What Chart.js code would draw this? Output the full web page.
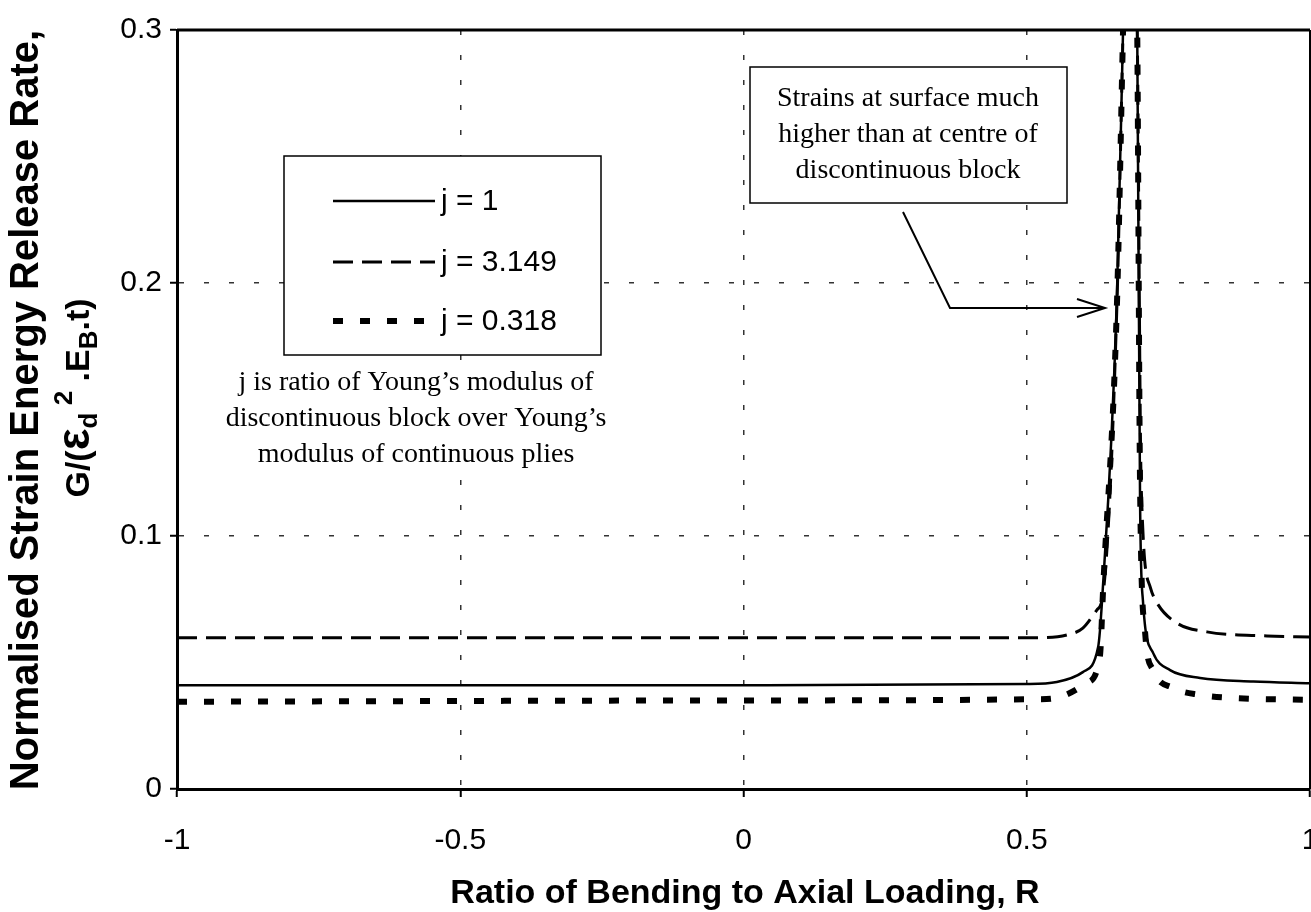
<!DOCTYPE html>
<html>
<head>
<meta charset="utf-8">
<title>Normalised strain energy release rate</title>
<script src="https://cdn.jsdelivr.net/npm/chart.js@4.4.1/dist/chart.umd.min.js"></script>
<style>
  html, body { margin: 0; padding: 0; background: #fff; overflow: hidden; }
  canvas { display: block; }
</style>
</head>
<body>
<canvas id="gChart" width="1330" height="912"></canvas>
<script>
// ---- data: R (bending / axial) and G/(eps^2.E.t) for each modulus ratio j ----
const rJ1 = [-1, 0, 0.5, 0.553, 0.599, 0.626, 0.633, 0.659, 0.670, 0.682, 0.695, 0.700, 0.705, 0.723, 0.753, 0.806, 0.9, 1.0];
const gJ1 = [0.041, 0.041, 0.0415, 0.0423, 0.0462, 0.0561, 0.0747, 0.193, 0.300, 0.42, 0.300, 0.114, 0.0747, 0.0538, 0.047, 0.0439, 0.0425, 0.0418];

const rJ3 = [-1, 0, 0.518, 0.571, 0.599, 0.624, 0.635, 0.659, 0.670, 0.682, 0.695, 0.702, 0.718, 0.730, 0.765, 0.818, 0.924, 1.0];
const gJ3 = [0.0598, 0.0598, 0.0598, 0.0609, 0.0636, 0.0708, 0.0775, 0.190, 0.300, 0.42, 0.300, 0.12, 0.0798, 0.0735, 0.0656, 0.0621, 0.0605, 0.0601];

const rJ03 = [-1, 0, 0.518, 0.559, 0.606, 0.629, 0.635, 0.659, 0.670, 0.682, 0.695, 0.700, 0.709, 0.723, 0.758, 0.806, 0.864, 1.0];
const gJ03 = [0.0345, 0.035, 0.0355, 0.0364, 0.0419, 0.0522, 0.08, 0.19, 0.300, 0.42, 0.300, 0.12, 0.0617, 0.047, 0.040, 0.0372, 0.036, 0.0352];

const seriesLabels = ["j = 1", "j = 3.149", "j = 0.318"];
const xTicks = [-1, -0.5, 0, 0.5, 1];
const yTicks = [0, 0.1, 0.2, 0.3];

const SANS = '"Liberation Sans", Arial, sans-serif';
const SERIF = '"Liberation Serif", "Times New Roman", serif';

const toPoints = (rs, gs) => rs.map((r, i) => ({ x: r, y: gs[i] }));

// line styles per series: solid, long dash, heavy short dash
const lineStyles = [
    { width: 2.5, dash: [] },
    { width: 3, dash: [20, 9] },
    { width: 6, dash: [10, 17] },
];

const datasets = [
    toPoints(rJ1, gJ1),
    toPoints(rJ3, gJ3),
    toPoints(rJ03, gJ03),
].map((pts, i) => ({
    label: seriesLabels[i],
    data: pts,
    borderColor: "#000",
    borderWidth: lineStyles[i].width,
    borderDash: lineStyles[i].dash,
    borderCapStyle: "butt",
    borderJoinStyle: "round",
    pointRadius: 0,
    cubicInterpolationMode: "monotone",
    fill: false,
}));

// ---- frame, legend, notes and axis titles ----
const overlay = {
    id: "overlay",
    afterDatasetsDraw(chart) {
        const { ctx, chartArea: a } = chart;
        ctx.save();
        ctx.strokeStyle = "#000";
        ctx.fillStyle = "#000";
        ctx.setLineDash([]);

        // top + right border of plot area
        ctx.lineWidth = 3;
        ctx.beginPath();
        ctx.moveTo(a.left, a.top);
        ctx.lineTo(a.right, a.top);
        ctx.stroke();
        ctx.lineWidth = 2;
        ctx.beginPath();
        ctx.moveTo(a.right, a.top);
        ctx.lineTo(a.right, a.bottom);
        ctx.stroke();

        // legend box
        ctx.fillStyle = "#fff";
        ctx.fillRect(284, 156, 317, 199);
        ctx.lineWidth = 1.5;
        ctx.strokeRect(284, 156, 317, 199);
        const rows = [201, 262, 321];
        chart.data.datasets.forEach((ds, i) => {
            ctx.lineWidth = ds.borderWidth;
            ctx.setLineDash(ds.borderDash);
            ctx.lineCap = "butt";
            ctx.beginPath();
            ctx.moveTo(333, rows[i]);
            ctx.lineTo(435, rows[i]);
            ctx.stroke();
            ctx.setLineDash([]);
            ctx.fillStyle = "#000";
            ctx.font = "30px " + SANS;
            ctx.textAlign = "left";
            ctx.textBaseline = "middle";
            ctx.fillText(ds.label, 441, rows[i] + 1);
        });

        // note under the legend (text box with white fill, no outline)
        ctx.fillStyle = "#fff";
        ctx.fillRect(214, 362, 404, 110);
        ctx.fillStyle = "#000";
        ctx.font = "28px " + SERIF;
        ctx.textAlign = "center";
        ctx.textBaseline = "middle";
        ["j is ratio of Young\u2019s modulus of",
         "discontinuous block over Young\u2019s",
         "modulus of continuous plies"].forEach((t, i) => ctx.fillText(t, 416, 383 + i * 36));

        // callout box with arrow
        ctx.fillStyle = "#fff";
        ctx.fillRect(750, 67, 317, 136);
        ctx.lineWidth = 1.5;
        ctx.strokeRect(750, 67, 317, 136);
        ctx.fillStyle = "#000";
        ["Strains at surface much",
         "higher than at centre of",
         "discontinuous block"].forEach((t, i) => ctx.fillText(t, 908, 99 + i * 36));
        ctx.lineWidth = 2;
        ctx.beginPath();
        ctx.moveTo(903, 212);
        ctx.lineTo(950, 308);
        ctx.lineTo(1105, 308);
        ctx.moveTo(1077, 299);
        ctx.lineTo(1105, 308);
        ctx.lineTo(1077, 317);
        ctx.stroke();

        // x axis title
        ctx.font = "bold 34px " + SANS;
        ctx.textAlign = "center";
        ctx.textBaseline = "middle";
        ctx.fillText("Ratio of Bending to Axial Loading, R", 745, 894);

        // y axis title, two lines, rotated
        ctx.save();
        ctx.translate(38, 410);
        ctx.rotate(-Math.PI / 2);
        ctx.font = "bold 40px " + SANS;
        ctx.textBaseline = "alphabetic";
        ctx.fillText("Normalised Strain Energy Release Rate,", 0, 0);
        ctx.restore();

        ctx.save();
        ctx.translate(89, 398);
        ctx.rotate(-Math.PI / 2);
        ctx.textBaseline = "alphabetic";
        ctx.textAlign = "left";
        const parts = [
            { t: "G/(", size: 34, dy: 0 },
            { t: "\u03b5", size: 46, dy: 0 },
            { t: "d", size: 26, dy: 8 },
            { t: " 2", size: 26, dy: -17 },
            { t: " .E", size: 34, dy: 0 },
            { t: "B", size: 26, dy: 8 },
            { t: ".t)", size: 34, dy: 0 },
        ];
        let total = 0;
        parts.forEach(p => { ctx.font = "bold " + p.size + "px " + SANS; p.w = ctx.measureText(p.t).width; total += p.w; });
        let x = -total / 2;
        parts.forEach(p => {
            ctx.font = "bold " + p.size + "px " + SANS;
            ctx.fillText(p.t, x, p.dy);
            x += p.w;
        });
        ctx.restore();

        ctx.restore();
    },
};

new Chart(document.getElementById("gChart"), {
    type: "line",
    data: { datasets },
    options: {
        responsive: false,
        devicePixelRatio: 1,
        animation: false,
        layout: { padding: { top: 30, right: 20, left: 0, bottom: 0 } },
        plugins: { legend: { display: false }, tooltip: { enabled: false } },
        scales: {
            x: {
                type: "linear",
                min: -1,
                max: 1,
                afterBuildTicks: (s) => { s.ticks = xTicks.map(v => ({ value: v })); },
                afterFit: (s) => { s.height = 123; s.paddingLeft = 0; s.paddingRight = 0; },
                ticks: {
                    color: "#000",
                    font: { family: SANS, size: 30 },
                    padding: 26,
                    maxRotation: 0,
                    callback: (v) => String(v),
                },
                grid: {
                    color: "#333",
                    lineWidth: 1.5,
                    tickLength: 8,
                    tickColor: "#000",
                    tickWidth: 2,
                    tickBorderDash: [],
                },
                border: { display: true, color: "#000", width: 3, dash: [5, 20] },
            },
            y: {
                type: "linear",
                min: 0,
                max: 0.3,
                afterBuildTicks: (s) => { s.ticks = yTicks.map(v => ({ value: v })); },
                afterFit: (s) => { s.width = 177; s.paddingTop = 0; s.paddingBottom = 0; },
                ticks: {
                    color: "#000",
                    font: { family: SANS, size: 30 },
                    padding: 8,
                    callback: (v) => (v === 0 ? "0" : v.toFixed(1)),
                },
                grid: {
                    color: "#333",
                    lineWidth: 1.5,
                    tickLength: 7,
                    tickColor: "#000",
                    tickWidth: 2,
                    tickBorderDash: [],
                },
                border: { display: true, color: "#000", width: 3, dash: [5, 20] },
            },
        },
    },
    plugins: [overlay],
});
</script>
</body>
</html>
